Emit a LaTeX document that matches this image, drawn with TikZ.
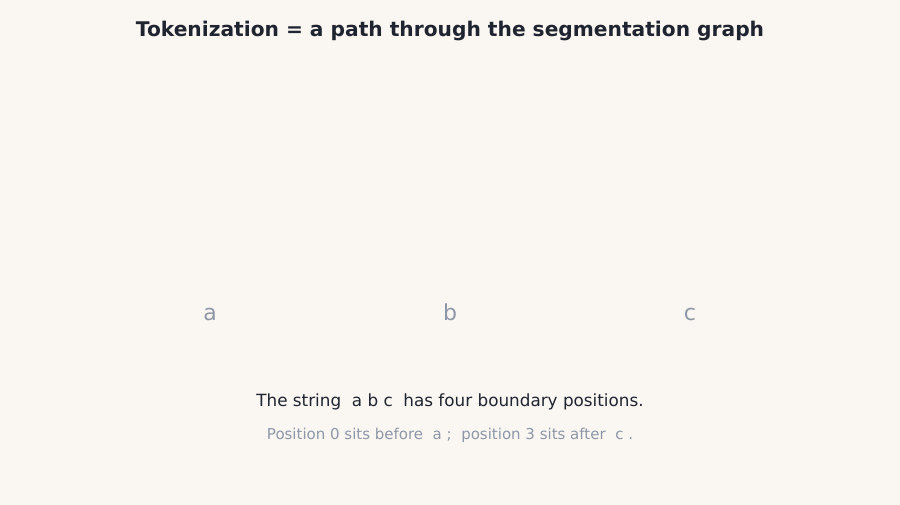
\documentclass[tikz,border=0pt]{standalone}
\usepackage{fontspec}
\setmainfont{DejaVu Sans}
\definecolor{bgcol}{HTML}{FAF6F1}
\definecolor{inkcol}{HTML}{1F2430}
\definecolor{mutedcol}{HTML}{8E97A8}
\begin{document}
\begin{tikzpicture}[x=1pt,y=-1pt,
    title/.style={font=\bfseries\fontsize{20.2}{24}\selectfont,text=inkcol,anchor=base},
    letter/.style={font=\fontsize{22}{26}\selectfont,text=mutedcol,anchor=base},
    caption/.style={font=\fontsize{16.8}{20}\selectfont,text=inkcol,anchor=base},
    subcaption/.style={font=\fontsize{15}{18}\selectfont,text=mutedcol,anchor=base}]
  \pgfmathsetmacro\cstep{240}   % spacing of the characters

% canvas
  \fill[bgcol] (0,0) rectangle (900,505);
  \useasboundingbox (0,0) rectangle (900,505);

% title
  \node[title] (head) at (450,37) {Tokenization = a path through the segmentation graph};

% characters of the string
  \node[letter] (chara) at (450-\cstep,320) {a};
  \node[letter] (charb) at (450,320) {b};
  \node[letter] (charc) at (450+\cstep,320) {c};

% explanation below
  \node[caption] (note) at (450,406) {The string\ \ a b c\ \ has four boundary positions.};
  \node[subcaption] (hint) at (450,439) {Position 0 sits before\ \ a ;\ \ position 3 sits after\ \ c .};
\end{tikzpicture}
\end{document}
